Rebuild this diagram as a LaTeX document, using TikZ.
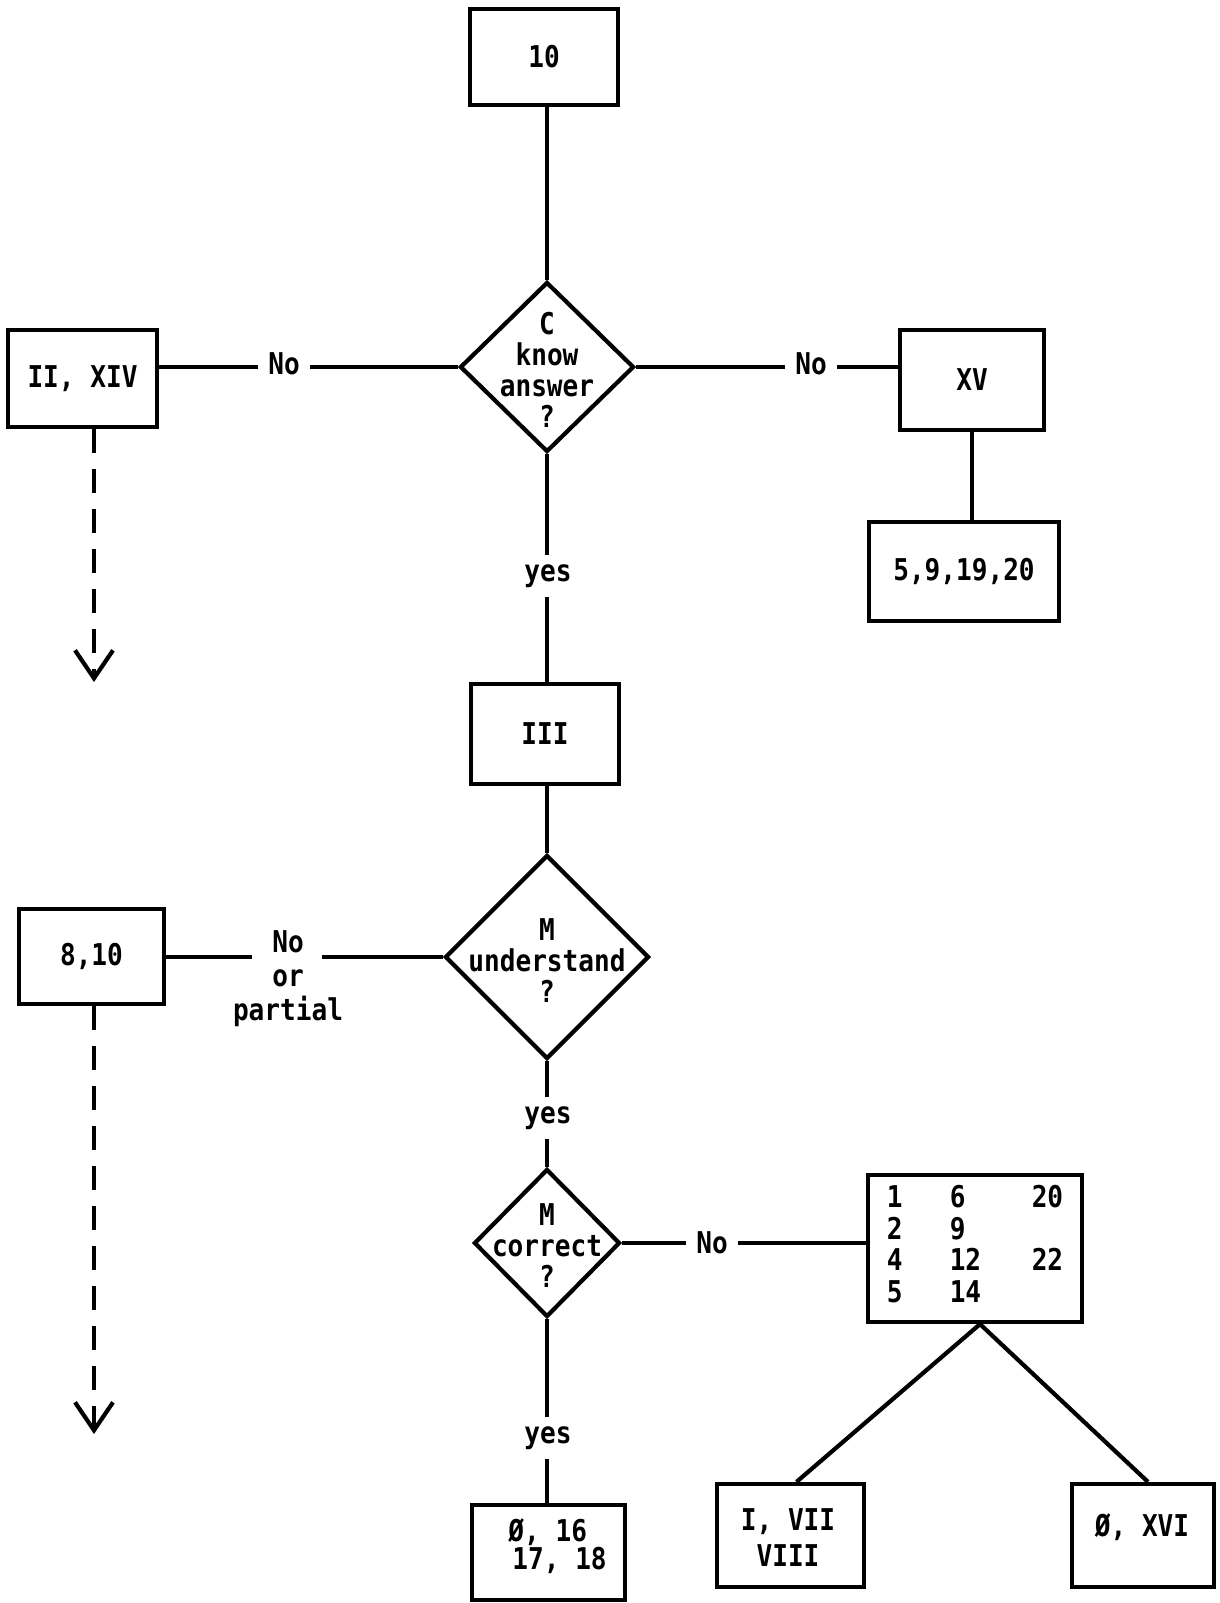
\documentclass[tikz,border=0pt]{standalone}
\usepackage{fontspec}
\setmainfont{DejaVu Sans Mono}[FakeStretch=0.87, BoldFont=* Bold]
\usetikzlibrary{arrows.meta,shapes.geometric}
\begin{document}
\begin{tikzpicture}[x=0.5pt,y=-0.5pt,
  every node/.style={font=\fontsize{15}{15.5}\selectfont\bfseries},
  ln/.style={line width=2.1pt},
  box/.style={draw, line width=2.1pt, rectangle, inner sep=0pt, align=center},
  dia/.style={draw, line width=2.1pt, diamond, inner sep=0pt},
  txt/.style={inner sep=0pt, align=center},
  lbl/.style={fill=white, inner xsep=5.25pt, inner ysep=4.75pt},
  dashln/.style={line width=2.1pt, dash pattern=on 12pt off 8pt, -{Straight Barb[length=14pt,width=19pt]}}
]
\useasboundingbox[fill=white] (0,0) rectangle (1220,1603);

% boxes and diamonds
\node[box, minimum width=74pt, minimum height=48pt] (b1) at (544,57) {10};
\node[dia, minimum width=87pt, minimum height=85pt] (d1) at (547,367) {};
\node[txt] (t1) at (547,370) {C\\know\\answer\\?};
\node[box, minimum width=74.5pt, minimum height=48.5pt] (b2) at (82.5,378.5) {II, XIV};
\node[box, minimum width=72pt, minimum height=50pt] (b4) at (972,380) {XV};
\node[box, minimum width=95pt, minimum height=49.5pt] (b5) at (964,571.5) {5,9,19,20};
\node[box, minimum width=74pt, minimum height=50pt] (b3) at (545,734) {III};
\node[dia, minimum width=102pt, minimum height=102pt] (d2) at (547,957) {};
\node[txt] (t2) at (547,961) {M\\understand\\?};
\node[box, minimum width=72.5pt, minimum height=47.5pt] (b9) at (91.5,956.5) {8,10};
\node[dia, minimum width=73pt, minimum height=74pt] (d3) at (547,1243) {};
\node[txt] (t3) at (547,1246) {M\\correct\\?};
\node[box, minimum width=107pt, minimum height=73.5pt] (b6) at (975,1248.5)
  {\begin{tabular}{@{}p{31.5pt}@{}p{41pt}@{}l@{}}1&6&20\\2&9&\\4&12&22\\5&14&\end{tabular}};
\node[box, minimum width=76.5pt, minimum height=47.5pt] (b8) at (548.5,1552.5) {};
\node[txt, align=left, font=\fontsize{15}{12.5}\selectfont\bfseries, anchor=west] (t8) at (508,1546) {Ø, 16\\\hspace*{2pt}17, 18};
\node[box, minimum width=73.5pt, minimum height=51.5pt] (b7) at (790.5,1535.5) {};
\node[txt, font=\fontsize{15}{18}\selectfont\bfseries] (t7) at (788,1538) {I, VII\\VIII};
\node[box, minimum width=71pt, minimum height=51.5pt] (b10) at (1143,1535.5) {};
\node[txt] (t10) at (1142,1527) {Ø, XVI};

% arrow end points
\coordinate (a1) at (94,682);
\coordinate (a2) at (94,1434);

% connectors
\draw[ln] (b1.south -| d1.north) -- (d1.north);
\draw[ln] (d1.west) -- (d1.west -| b2.east);
\draw[ln] (d1.east) -- (d1.east -| b4.west);
\draw[ln] (b4.south) -- (b4.south |- b5.north);
\draw[ln] (d1.south) -- (d1.south |- b3.north);
\draw[ln] (b3.south -| d2.north) -- (d2.north);
\draw[ln] (d2.west) -- (d2.west -| b9.east);
\draw[ln] (d2.south) -- (d3.north);
\draw[ln] (d3.east) -- (d3.east -| b6.west);
\draw[ln] (d3.south) -- (d3.south |- b8.north);
\draw[ln] ([xshift=2.5pt]b6.south) -- ([xshift=3pt]b7.north);
\draw[ln] ([xshift=2.5pt]b6.south) -- ([xshift=2.5pt]b10.north);
\draw[dashln] (b2.south -| a1) -- (a1);
\draw[dashln] (b9.south -| a2) -- (a2);

% labels
\node[lbl] (n1) at (284,364) {No};
\node[lbl] (n2) at (811,364) {No};
\node[lbl] (y1) at (548,576) {yes};
\node[lbl] (y2) at (548,1118) {yes};
\node[lbl] (n4) at (712,1243) {No};
\node[lbl] (y3) at (548,1438) {yes};
\node[fill=white, inner sep=0pt, minimum width=35pt, minimum height=5pt] (g1) at (287,957) {};
\node[txt, anchor=north, font=\fontsize{15}{17}\selectfont\bfseries] (n3) at (288,930) {No\\or\\partial};
\end{tikzpicture}
\end{document}
